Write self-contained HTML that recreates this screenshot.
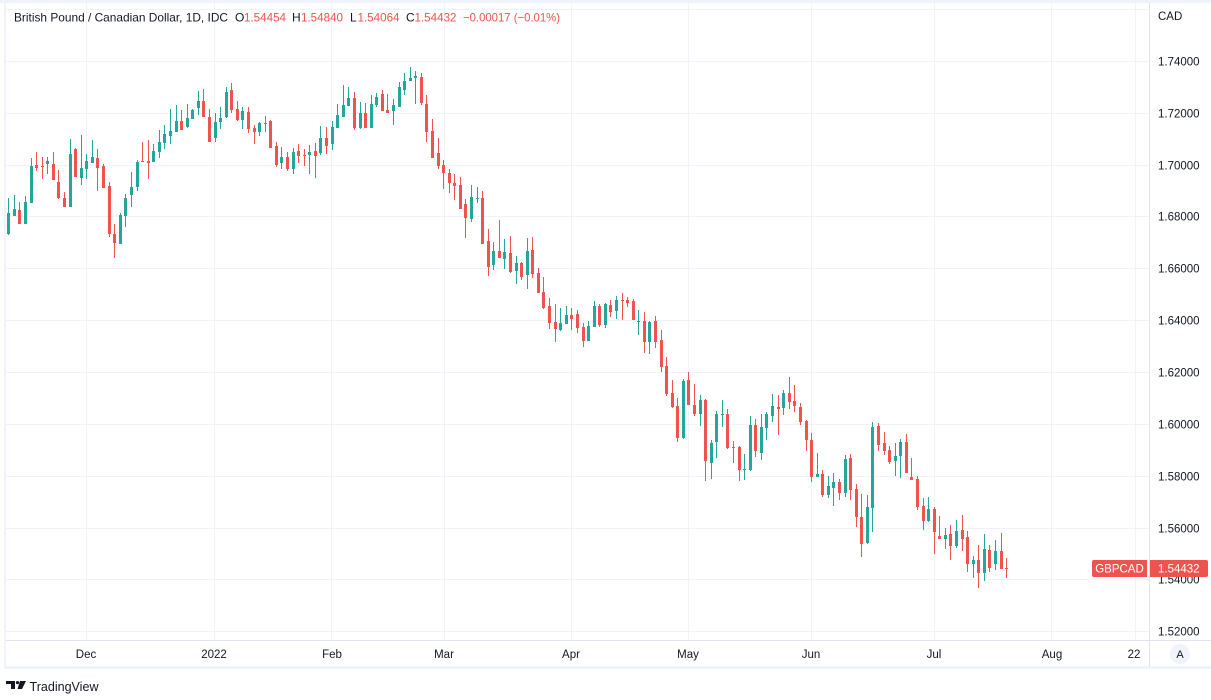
<!DOCTYPE html>
<html>
<head>
<meta charset="utf-8">
<style>
html,body{margin:0;padding:0;background:#fff;}
svg{display:block;}
text{font-family:"Liberation Sans",Arial,sans-serif;}
</style>
</head>
<body>
<svg width="1211" height="700" viewBox="0 0 1211 700" xmlns="http://www.w3.org/2000/svg">
<rect x="0" y="0" width="1211" height="700" fill="#ffffff"/>
<!-- frame -->
<rect x="0" y="0" width="1211" height="3" fill="#f0f3fa"/>
<rect x="4" y="0" width="2" height="669" fill="#f0f3fa"/>
<rect x="4" y="666" width="1207" height="3" fill="#f0f3fa"/>

<!-- grid -->
<g stroke="#f0f3fa" stroke-width="1" shape-rendering="crispEdges">
<path d="M6 9.5H1149M6 61.5H1149M6 113.5H1149M6 165.5H1149M6 216.5H1149M6 268.5H1149M6 320.5H1149M6 372.5H1149M6 424.5H1149M6 476.5H1149M6 528.5H1149M6 579.5H1149M6 631.5H1149"/>
<path d="M86.5 3V640M214.5 3V640M331.5 3V640M444.5 3V640M571.5 3V640M688.5 3V640M811.5 3V640M934.5 3V640M1051.5 3V640M1135.5 3V640"/>
</g>

<!-- axes lines -->
<g stroke="#e0e3eb" stroke-width="1" shape-rendering="crispEdges">
<path d="M1149.5 3V667"/>
<path d="M6 640.5H1211"/>
</g>

<!-- green candles -->
<path fill="#26a69a" shape-rendering="crispEdges" d="M8 198h1V235h-1zM7 213h3V234h-3zM14 195h1V216h-1zM13 209h3V216h-3zM25 196h1V224h-1zM24 202h3V224h-3zM31 158h1V203h-1zM30 166h3V203h-3zM47 157h1V174h-1zM46 161h3V164h-3zM70 139h1V207h-1zM69 154h3V207h-3zM81 135h1V185h-1zM80 168h3V178h-3zM86 154h1V179h-1zM85 161h3V169h-3zM92 140h1V163h-1zM91 157h3V163h-3zM120 213h1V244h-1zM119 215h3V244h-3zM125 194h1V227h-1zM124 198h3V216h-3zM131 172h1V207h-1zM130 187h3V195h-3zM137 160h1V191h-1zM136 162h3V187h-3zM153 144h1V162h-1zM152 151h3V162h-3zM159 130h1V158h-1zM158 142h3V152h-3zM164 125h1V149h-1zM163 134h3V143h-3zM170 109h1V144h-1zM169 131h3V136h-3zM176 105h1V132h-1zM175 121h3V132h-3zM187 104h1V128h-1zM186 118h3V127h-3zM192 109h1V119h-1zM191 110h3V119h-3zM198 91h1V115h-1zM197 101h3V108h-3zM215 113h1V142h-1zM214 122h3V138h-3zM220 107h1V129h-1zM219 118h3V122h-3zM226 87h1V118h-1zM225 92h3V117h-3zM242 107h1V129h-1zM241 111h3V120h-3zM259 122h1V136h-1zM258 123h3V132h-3zM281 147h1V169h-1zM280 157h3V163h-3zM293 148h1V174h-1zM292 152h3V169h-3zM309 145h1V174h-1zM308 152h3V155h-3zM320 126h1V155h-1zM319 138h3V153h-3zM332 121h1V150h-1zM331 127h3V144h-3zM337 104h1V128h-1zM336 115h3V128h-3zM343 85h1V117h-1zM342 105h3V117h-3zM348 87h1V106h-1zM347 98h3V106h-3zM360 102h1V129h-1zM359 113h3V128h-3zM371 95h1V128h-1zM370 104h3V128h-3zM376 93h1V107h-1zM375 97h3V105h-3zM393 99h1V125h-1zM392 105h3V111h-3zM399 82h1V107h-1zM398 87h3V107h-3zM404 73h1V95h-1zM403 81h3V90h-3zM410 67h1V81h-1zM409 78h3V81h-3zM415 71h1V104h-1zM414 76h3V78h-3zM471 185h1V222h-1zM470 197h3V219h-3zM477 187h1V203h-1zM476 198h3V199h-3zM493 242h1V270h-1zM492 251h3V265h-3zM504 239h1V269h-1zM503 252h3V259h-3zM516 256h1V284h-1zM515 263h3V271h-3zM527 238h1V289h-1zM526 251h3V275h-3zM560 308h1V331h-1zM559 323h3V330h-3zM566 306h1V324h-1zM565 315h3V324h-3zM588 321h1V341h-1zM587 326h3V341h-3zM594 301h1V327h-1zM593 306h3V327h-3zM605 303h1V328h-1zM604 304h3V325h-3zM616 296h1V319h-1zM615 300h3V311h-3zM638 310h1V335h-1zM637 321h3V322h-3zM649 321h1V354h-1zM648 322h3V342h-3zM683 379h1V439h-1zM682 381h3V438h-3zM700 395h1V426h-1zM699 400h3V414h-3zM711 440h1V479h-1zM710 443h3V463h-3zM716 411h1V458h-1zM715 414h3V442h-3zM722 400h1V427h-1zM721 414h3V415h-3zM744 454h1V480h-1zM743 469h3V470h-3zM750 416h1V471h-1zM749 425h3V470h-3zM761 414h1V460h-1zM760 427h3V453h-3zM766 412h1V440h-1zM765 414h3V428h-3zM772 394h1V422h-1zM771 406h3V416h-3zM783 390h1V415h-1zM782 393h3V408h-3zM817 453h1V477h-1zM816 474h3V477h-3zM828 476h1V498h-1zM827 486h3V495h-3zM833 473h1V506h-1zM832 482h3V488h-3zM845 455h1V497h-1zM844 459h3V493h-3zM867 495h1V544h-1zM866 507h3V543h-3zM872 422h1V532h-1zM871 427h3V508h-3zM895 443h1V476h-1zM894 456h3V461h-3zM900 439h1V478h-1zM899 442h3V456h-3zM928 497h1V522h-1zM927 509h3V521h-3zM945 528h1V549h-1zM944 535h3V539h-3zM956 520h1V548h-1zM955 531h3V546h-3zM973 556h1V578h-1zM972 560h3V564h-3zM984 534h1V581h-1zM983 549h3V573h-3zM995 540h1V570h-1zM994 551h3V564h-3z"/>

<!-- red candles -->
<path fill="#ef5350" shape-rendering="crispEdges" d="M19 202h1V224h-1zM18 210h3V224h-3zM36 152h1V171h-1zM35 165h3V168h-3zM42 157h1V179h-1zM41 166h3V167h-3zM53 152h1V180h-1zM52 164h3V180h-3zM58 170h1V199h-1zM57 182h3V198h-3zM64 192h1V207h-1zM63 198h3V207h-3zM75 148h1V177h-1zM74 149h3V177h-3zM97 149h1V191h-1zM96 158h3V168h-3zM103 164h1V188h-1zM102 166h3V188h-3zM109 182h1V237h-1zM108 186h3V234h-3zM114 224h1V258h-1zM113 234h3V243h-3zM142 142h1V162h-1zM141 161h3V162h-3zM148 140h1V179h-1zM147 161h3V163h-3zM181 110h1V130h-1zM180 121h3V130h-3zM203 89h1V117h-1zM202 101h3V117h-3zM209 109h1V142h-1zM208 117h3V142h-3zM231 83h1V113h-1zM230 90h3V110h-3zM237 101h1V121h-1zM236 109h3V120h-3zM248 107h1V133h-1zM247 112h3V129h-3zM254 125h1V144h-1zM253 128h3V132h-3zM265 116h1V132h-1zM264 123h3V124h-3zM270 120h1V148h-1zM269 121h3V148h-3zM276 142h1V167h-1zM275 146h3V165h-3zM287 152h1V171h-1zM286 157h3V169h-3zM298 144h1V163h-1zM297 151h3V156h-3zM304 149h1V166h-1zM303 155h3V156h-3zM315 143h1V178h-1zM314 151h3V156h-3zM326 127h1V154h-1zM325 138h3V146h-3zM354 92h1V130h-1zM353 98h3V128h-3zM365 103h1V128h-1zM364 113h3V128h-3zM382 90h1V111h-1zM381 94h3V111h-3zM387 94h1V113h-1zM386 110h3V113h-3zM421 73h1V105h-1zM420 77h3V103h-3zM426 95h1V142h-1zM425 104h3V132h-3zM432 119h1V158h-1zM431 131h3V158h-3zM438 138h1V169h-1zM437 153h3V166h-3zM443 160h1V189h-1zM442 165h3V173h-3zM449 169h1V193h-1zM448 173h3V183h-3zM454 174h1V200h-1zM453 183h3V186h-3zM460 177h1V209h-1zM459 185h3V209h-3zM465 199h1V238h-1zM464 204h3V218h-3zM482 191h1V244h-1zM481 198h3V244h-3zM488 229h1V276h-1zM487 241h3V267h-3zM499 220h1V258h-1zM498 251h3V258h-3zM510 236h1V273h-1zM509 253h3V272h-3zM521 262h1V280h-1zM520 263h3V277h-3zM532 237h1V278h-1zM531 250h3V274h-3zM538 268h1V293h-1zM537 273h3V293h-3zM543 277h1V309h-1zM542 292h3V308h-3zM549 298h1V329h-1zM548 306h3V323h-3zM555 304h1V342h-1zM554 322h3V329h-3zM571 308h1V330h-1zM570 315h3V319h-3zM577 310h1V333h-1zM576 314h3V328h-3zM583 323h1V347h-1zM582 327h3V341h-3zM599 304h1V327h-1zM598 306h3V325h-3zM610 300h1V317h-1zM609 305h3V312h-3zM622 293h1V320h-1zM621 300h3V301h-3zM627 297h1V307h-1zM626 300h3V303h-3zM633 299h1V320h-1zM632 301h3V320h-3zM644 312h1V353h-1zM643 321h3V342h-3zM655 316h1V348h-1zM654 321h3V342h-3zM661 330h1V372h-1zM660 340h3V367h-3zM666 357h1V396h-1zM665 366h3V394h-3zM672 380h1V408h-1zM671 393h3V407h-3zM677 398h1V442h-1zM676 406h3V438h-3zM688 372h1V405h-1zM687 380h3V405h-3zM694 384h1V416h-1zM693 405h3V414h-3zM705 399h1V481h-1zM704 400h3V461h-3zM727 409h1V449h-1zM726 414h3V448h-3zM733 441h1V463h-1zM732 447h3V448h-3zM739 446h1V481h-1zM738 447h3V470h-3zM755 419h1V457h-1zM754 425h3V451h-3zM778 395h1V435h-1zM777 407h3V409h-3zM789 377h1V409h-1zM788 393h3V402h-3zM794 385h1V412h-1zM793 401h3V406h-3zM800 403h1V425h-1zM799 407h3V422h-3zM806 420h1V451h-1zM805 421h3V440h-3zM811 433h1V482h-1zM810 440h3V477h-3zM822 470h1V497h-1zM821 474h3V495h-3zM839 479h1V500h-1zM838 482h3V493h-3zM850 454h1V500h-1zM849 458h3V490h-3zM856 484h1V527h-1zM855 489h3V517h-3zM861 494h1V557h-1zM860 517h3V544h-3zM878 423h1V451h-1zM877 426h3V445h-3zM884 432h1V455h-1zM883 443h3V451h-3zM889 446h1V464h-1zM888 450h3V462h-3zM906 434h1V473h-1zM905 442h3V473h-3zM911 458h1V480h-1zM910 477h3V480h-3zM917 476h1V510h-1zM916 479h3V507h-3zM923 498h1V530h-1zM922 506h3V521h-3zM934 507h1V554h-1zM933 509h3V532h-3zM939 516h1V539h-1zM938 536h3V539h-3zM950 525h1V560h-1zM949 534h3V546h-3zM962 515h1V551h-1zM961 530h3V539h-3zM967 531h1V572h-1zM966 537h3V564h-3zM978 545h1V588h-1zM977 560h3V573h-3zM989 545h1V572h-1zM988 550h3V568h-3zM1001 533h1V569h-1zM1000 551h3V569h-3zM1006 558h1V578h-1zM1005 568h3V569h-3z"/>

<!-- legend -->
<g font-size="12">
<text x="14" y="21.5" fill="#131722" textLength="214" lengthAdjust="spacingAndGlyphs">British Pound / Canadian Dollar, 1D, IDC</text>
<text x="235" y="21.5" fill="#131722">O</text>
<text x="244" y="21.5" fill="#ef5350" textLength="42" lengthAdjust="spacingAndGlyphs">1.54454</text>
<text x="292" y="21.5" fill="#131722">H</text>
<text x="301" y="21.5" fill="#ef5350" textLength="42" lengthAdjust="spacingAndGlyphs">1.54840</text>
<text x="350" y="21.5" fill="#131722">L</text>
<text x="357.5" y="21.5" fill="#ef5350" textLength="42" lengthAdjust="spacingAndGlyphs">1.54064</text>
<text x="406" y="21.5" fill="#131722">C</text>
<text x="414.5" y="21.5" fill="#ef5350" textLength="42" lengthAdjust="spacingAndGlyphs">1.54432</text>
<text x="463" y="21.5" fill="#ef5350" textLength="97" lengthAdjust="spacingAndGlyphs">−0.00017 (−0.01%)</text>
</g>

<!-- price axis labels -->
<g font-size="11.5" fill="#131722">
<text x="1158" y="20">CAD</text>
<text x="1158" y="65.5">1.74000</text>
<text x="1158" y="117.5">1.72000</text>
<text x="1158" y="169.5">1.70000</text>
<text x="1158" y="220.5">1.68000</text>
<text x="1158" y="272.5">1.66000</text>
<text x="1158" y="324.5">1.64000</text>
<text x="1158" y="376.5">1.62000</text>
<text x="1158" y="428.5">1.60000</text>
<text x="1158" y="480.5">1.58000</text>
<text x="1158" y="532.5">1.56000</text>
<text x="1158" y="583.5">1.54000</text>
<text x="1158" y="635.5">1.52000</text>
</g>

<!-- last price labels -->
<path d="M1094 560h53v17h-53a2 2 0 0 1-2-2v-13a2 2 0 0 1 2-2z" fill="#ef5350"/>
<path d="M1150 560h56a2 2 0 0 1 2 2v13a2 2 0 0 1-2 2h-56z" fill="#ef5350"/>
<text x="1119.5" y="572.5" font-size="11.5" fill="#ffffff" text-anchor="middle">GBPCAD</text>
<text x="1158" y="572.5" font-size="11.5" fill="#ffffff">1.54432</text>

<!-- time axis labels -->
<g font-size="11.5" fill="#131722" text-anchor="middle">
<text x="86" y="658">Dec</text>
<text x="214" y="658">2022</text>
<text x="332" y="658">Feb</text>
<text x="444" y="658">Mar</text>
<text x="571" y="658">Apr</text>
<text x="688" y="658">May</text>
<text x="811" y="658">Jun</text>
<text x="934" y="658">Jul</text>
<text x="1052" y="658">Aug</text>
<text x="1134" y="658">22</text>
</g>

<!-- A button -->
<circle cx="1180" cy="654" r="10" fill="#f0f3fa"/>
<text x="1180" y="658" font-size="11" fill="#131722" text-anchor="middle">A</text>

<!-- TradingView logo -->
<g fill="#131722">
<path d="M6 681h9v8h-4v-5h-5z"/>
<circle cx="17.5" cy="682.6" r="1.6"/>
<path d="M20 681h6l-4 8h-4.5z"/>
</g>
<text x="29.5" y="691" font-size="13" fill="#131722" textLength="69" lengthAdjust="spacingAndGlyphs">TradingView</text>
</svg>
</body>
</html>
